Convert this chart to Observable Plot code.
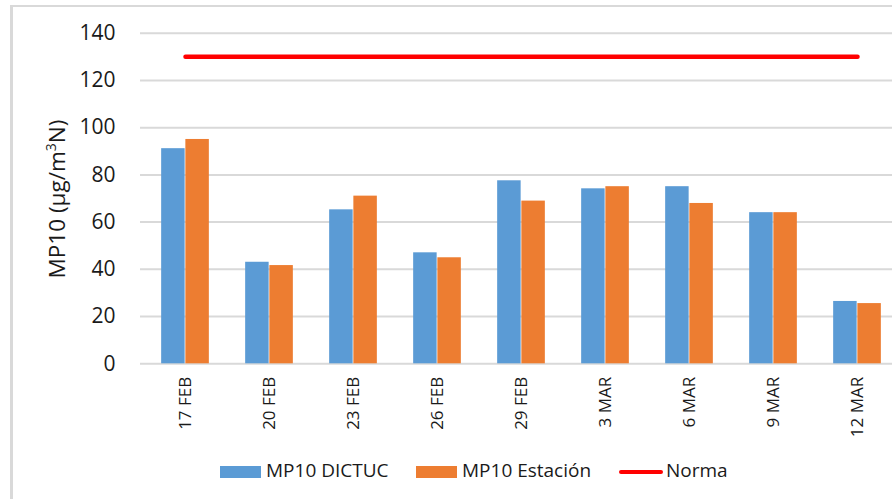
<!DOCTYPE html>
<html>
<head>
<meta charset="utf-8">
<script src="https://cdn.jsdelivr.net/npm/d3@7"></script>
<script src="https://cdn.jsdelivr.net/npm/@observablehq/plot@0.6"></script>
<style>
  html, body { margin: 0; padding: 0; background: #fff; overflow: hidden; }
  #wrap { position: relative; width: 892px; height: 499px; overflow: hidden; font-family: "Open Sans", sans-serif; color: #1a1a1a; }
  #frame { position: absolute; left: 10px; top: 5px; width: 2000px; height: 2000px; border-left: 3px solid #d9d9d9; border-top: 2px solid #d9d9d9; box-sizing: border-box; }
  #chart { position: absolute; left: 0; top: 0; }
  #ylabel { position: absolute; left: 57px; top: 199px; transform: translate(-50%, -50%) rotate(-90deg); white-space: nowrap; font-size: 22.5px; line-height: 1; }
  #ylabel sup { font-size: 14px; vertical-align: 0; position: relative; top: -9px; }
  .leg { position: absolute; font-size: 19px; white-space: nowrap; line-height: 1; }
  .sw { position: absolute; }
</style>
</head>
<body>
<div id="wrap">
  <div id="frame"></div>
  <div id="chart"></div>
  <div id="ylabel">MP10 (µg/m<sup>3</sup>N)</div>
  <div id="legend"></div>
</div>
<script>
const dates = ["17 FEB", "20 FEB", "23 FEB", "26 FEB", "29 FEB", "3 MAR", "6 MAR", "9 MAR", "12 MAR"];
const dictuc = [91.1, 43.0, 65.2, 47.0, 77.5, 74.1, 75.0, 64.0, 26.4];
const estacion = [95.0, 41.6, 71.0, 44.9, 68.9, 75.0, 67.9, 64.0, 25.5];
const norma = [130, 130, 130, 130, 130, 130, 130, 130, 130];
const yTicks = [0, 20, 40, 60, 80, 100, 120, 140];
const seriesNames = ["MP10 DICTUC", "MP10 Estación", "Norma"];
const colors = ["#5B9BD5", "#ED7D31", "#FF0000"];

const data = dates.map((d, i) => ({date: d, dictuc: dictuc[i], estacion: estacion[i], norma: norma[i]}));

const W = 892, H = 445;
const bandStart = 139.6, bandEnd = 902;
const bw = (bandEnd - bandStart) / dates.length;
const barW = 24.2;
const half = bw / 2;

const chart = Plot.plot({
  width: W,
  height: H,
  marginLeft: 140,
  marginRight: 0,
  marginTop: 32.7,
  marginBottom: 81.7,
  style: {fontFamily: "'Open Sans', sans-serif", color: "#1a1a1a", background: "transparent", overflow: "hidden"},
  x: {domain: dates, range: [bandStart, bandEnd], padding: 0, label: null},
  y: {domain: [0, 140], label: null},
  marks: [
    Plot.ruleY(yTicks, {stroke: "#d9d9d9", strokeWidth: 2}),
    Plot.barY(data, {x: "date", y: "dictuc", fill: colors[0], insetLeft: half - barW, insetRight: half}),
    Plot.barY(data, {x: "date", y: "estacion", fill: colors[1], insetLeft: half, insetRight: half - barW}),
    Plot.lineY(data, {x: "date", y: "norma", stroke: colors[2], strokeWidth: 4.5, strokeLinecap: "round"}),
    Plot.axisY({ticks: yTicks, tickSize: 0, tickPadding: 25, fontSize: 21, label: null}),
    Plot.axisX({tickSize: 0, tickPadding: 13, tickRotate: -90, fontSize: 17, label: null})
  ]
});
document.getElementById("chart").appendChild(chart);

// Legend
const legend = document.getElementById("legend");
const items = [
  {name: seriesNames[0], color: colors[0], type: "rect", sx: 220, tx: 266},
  {name: seriesNames[1], color: colors[1], type: "rect", sx: 416, tx: 462},
  {name: seriesNames[2], color: colors[2], type: "line", sx: 619, tx: 666}
];
for (const it of items) {
  const sw = document.createElement("div");
  sw.className = "sw";
  if (it.type === "rect") {
    sw.style.cssText = `left:${it.sx}px;top:466px;width:41px;height:12px;background:${it.color};`;
  } else {
    sw.style.cssText = `left:${it.sx}px;top:469.5px;width:44px;height:4.5px;border-radius:2px;background:${it.color};`;
  }
  legend.appendChild(sw);
  const t = document.createElement("div");
  t.className = "leg";
  t.style.left = it.tx + "px";
  t.style.top = "461px";
  t.textContent = it.name;
  legend.appendChild(t);
}
</script>
</body>
</html>
